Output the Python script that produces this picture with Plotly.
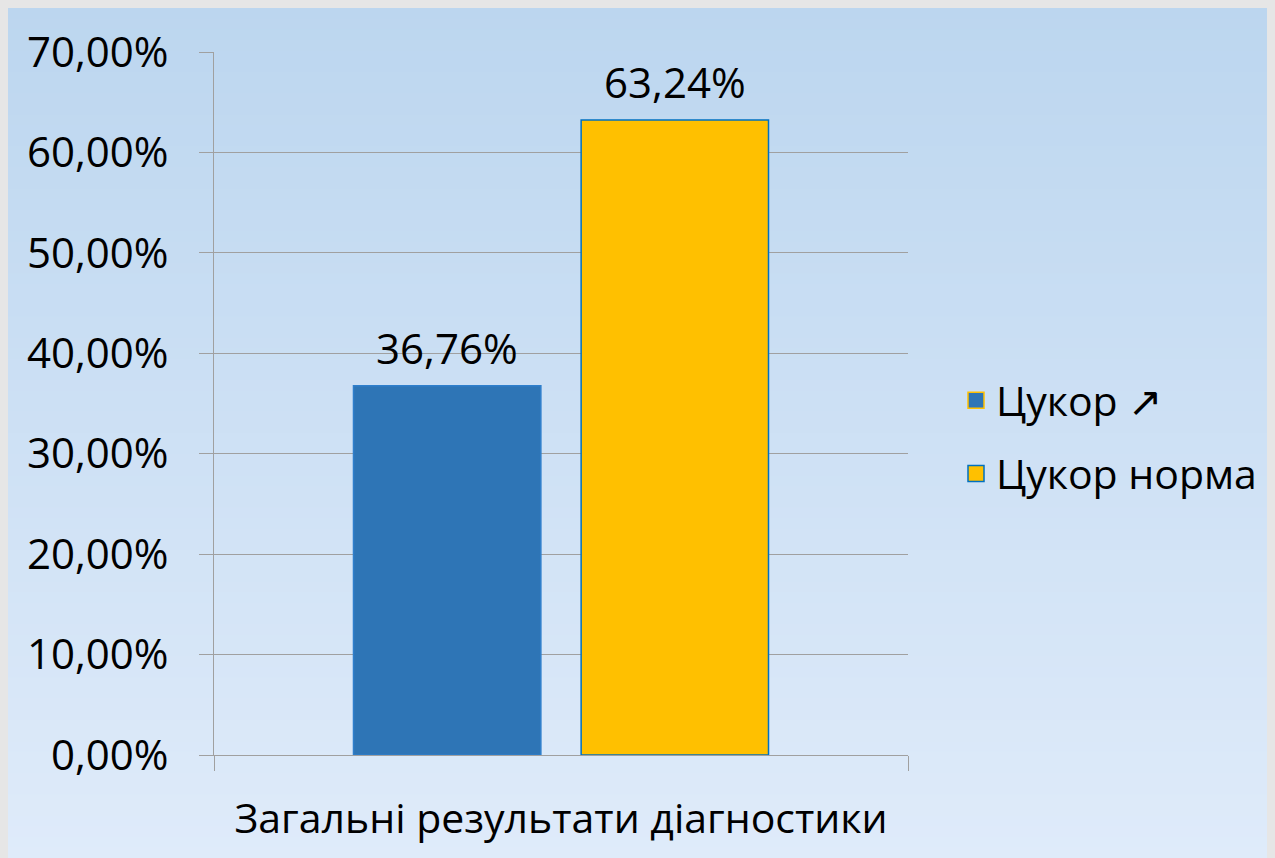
import plotly.graph_objects as go

categories = ["Загальні результати діагностики"]
series_names = ["Цукор ↗", "Цукор норма"]
sugar_high = [0.3676]
sugar_norm = [0.6324]
y_ticks = [0.0, 0.1, 0.2, 0.3, 0.4, 0.5, 0.6, 0.7]

# page has an 8px body margin; figure fills the rest of the 1275x858 window
W, H = 1267, 850
L, R, T, B = 206, 367, 44, 103
pw, ph = W - L - R, H - T - B

FONT = "Open Sans"
fsize = 42
blue, orange, edge = "#2E75B6", "#FFC000", "#0070C0"

bar_w = 0.27
offs = [-0.299, 0.029]

fig = go.Figure()
fig.add_trace(go.Bar(x=categories, y=sugar_high, name=series_names[0], width=bar_w, offset=offs[0],
                     marker=dict(color=blue, line=dict(color="#2F7FCC", width=1.5)), showlegend=False))
fig.add_trace(go.Bar(x=categories, y=sugar_norm, name=series_names[1], width=bar_w, offset=offs[1],
                     marker=dict(color=orange, line=dict(color=edge, width=1.5)), showlegend=False))
# legend entries (Excel-style swapped outlines)
fig.add_trace(go.Scatter(x=categories, y=[None], name=series_names[0], legendgroup="a", mode="markers",
                         marker=dict(symbol="square", size=16, color=blue, line=dict(color=orange, width=1.5))))
fig.add_trace(go.Scatter(x=categories, y=[None], name=series_names[1], legendgroup="b", mode="markers",
                         marker=dict(symbol="square", size=16, color=orange, line=dict(color=edge, width=1.5))))

# value labels
for vals, off in ((sugar_high, offs[0]), (sugar_norm, offs[1])):
    fig.add_annotation(x=off + bar_w / 2, y=vals[0], text=f"{vals[0]*100:.2f}%".replace(".", ","),
                       showarrow=False, yanchor="bottom", yshift=8,
                       font=dict(family=FONT, size=fsize, color="black"))

# background gradient
shapes = []
top_c, bot_c = (188, 214, 239), (223, 235, 250)
N = 80
x0 = -L / pw - 0.01
x1 = (W - L) / pw + 0.01
for i in range(N):
    p0 = H * i / N
    p1 = H * (i + 1) / N + 1
    t = (i + 0.5) / N
    c = tuple(round(top_c[k] + (bot_c[k] - top_c[k]) * t) for k in range(3))
    shapes.append(dict(type="rect", xref="paper", yref="paper", layer="below",
                       x0=x0, x1=x1, y0=(H - B - p1) / ph, y1=(H - B - p0) / ph,
                       fillcolor="rgb(%d,%d,%d)" % c, line=dict(width=0)))

fig.update_layout(
    width=W, height=H,
    margin=dict(l=L, r=R, t=T, b=B, pad=0),
    paper_bgcolor="rgb(205,224,244)", plot_bgcolor="rgba(0,0,0,0)",
    barmode="overlay", separators=", ",
    font=dict(family=FONT, size=fsize, color="black"),
    shapes=shapes,
    legend=dict(x=1 + (948 - 900) / pw, y=(H - B - 429) / ph, xanchor="left", yanchor="middle",
                bgcolor="rgba(0,0,0,0)", font=dict(family=FONT, size=41, color="black"),
                tracegroupgap=17, traceorder="grouped"),
    xaxis=dict(range=[-0.5, 0.5], showgrid=False, showline=True, linecolor="#A0A0A0", linewidth=1,
               ticks="outside", tickson="boundaries", ticklen=15, tickcolor="#A0A0A0",
               ticklabelstandoff=28, zeroline=False, fixedrange=True,
               tickfont=dict(family=FONT, size=41)),
    yaxis=dict(range=[0, 0.70], tickvals=y_ticks, tickformat=".2%", showgrid=True, gridcolor="#A0A0A0",
               gridwidth=1, showline=True, linecolor="#A0A0A0", linewidth=1, ticks="outside",
               ticklen=14, tickcolor="#A0A0A0", ticklabelstandoff=22, zeroline=False, fixedrange=True),
)

fig.write_html("out.html", post_script="document.body.style.background='#E6E6E6';")
